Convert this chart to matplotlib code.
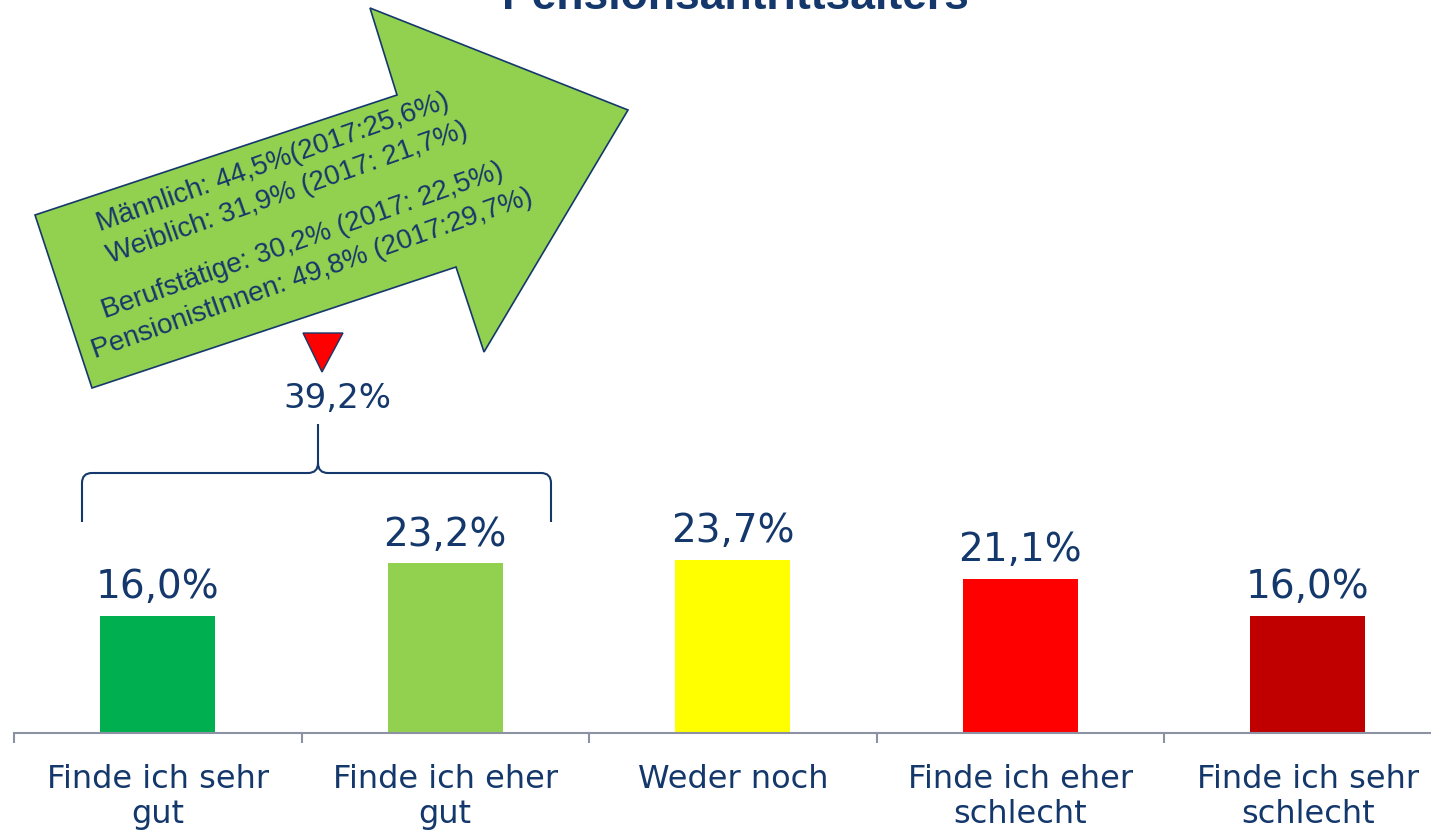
import numpy as np
import matplotlib
matplotlib.use('Agg')
import matplotlib.pyplot as plt
from matplotlib.patches import Polygon, PathPatch
from matplotlib.path import Path

kategorien = ['Finde ich sehr\ngut', 'Finde ich eher\ngut', 'Weder noch',
              'Finde ich eher\nschlecht', 'Finde ich sehr\nschlecht']
werte = [16.0, 23.2, 23.7, 21.1, 16.0]
farben = ['#00B050', '#92D050', '#FFFF00', '#FF0000', '#C00000']
summe_gut = 39.2
pfeil_zeilen = ['Männlich: 44,5%(2017:25,6%)', 'Weiblich: 31,9% (2017: 21,7%)',
                'Berufstätige: 30,2% (2017: 22,5%)', 'PensionistInnen: 49,8% (2017:29,7%)']
titel = 'Pensionsantrittsalters'

navy = '#14386b'
grau = '#8c91a3'
W, H = 1431, 832


def px(x, y):
    # Pixel (von oben links) -> Figure-Koordinaten
    return x / W, 1 - y / H


def fmt(v):
    return f'{v:.1f}%'.replace('.', ',')


fig = plt.figure(figsize=(W / 100, H / 100), dpi=100)
ax = fig.add_axes([14 / W, 99 / H, 1 - 14 / W, 1 - 99 / H])
ax.patch.set_alpha(0)

x = np.arange(len(werte))
ax.bar(x, werte, width=0.4, color=farben, zorder=2)

for xi, v in zip(x, werte):
    ax.text(xi, v + 2.4, fmt(v), ha='center', va='baseline', fontsize=28, color=navy)

for s in ['top', 'right', 'left']:
    ax.spines[s].set_visible(False)
ax.spines['bottom'].set_color(grau)
ax.spines['bottom'].set_linewidth(1.5)
ax.set_yticks([])
ax.set_xticks(x)
ax.set_xticklabels(kategorien, fontsize=23, color=navy, linespacing=1.2)
ax.set_xticks(np.arange(-0.5, len(werte) - 1, 1), minor=True)
ax.tick_params(axis='x', which='major', length=0, pad=22)
ax.tick_params(axis='x', which='minor', length=7.5, width=1.5, color=grau)
ax.set_xlim(-0.5, -0.5 + (W - 14) / 287.5)
ax.set_ylim(0, 733 / 7.31)

# Titel (abgeschnitten am oberen Rand)
fig.text(*px(735, 9), titel, ha='center', va='baseline', fontsize=32,
         fontweight='bold', color=navy, family='Liberation Sans')

# grüner Pfeil
pfeil = [(35, 215), (397, 95), (370, 8), (628, 110), (484, 352), (456, 267), (92, 388)]
fig.add_artist(Polygon([px(a, b) for a, b in pfeil], closed=True, transform=fig.transFigure,
                       facecolor='#92D050', edgecolor=navy, lw=1.2))
starts = [(100, 231), (110, 263), (105, 318), (95, 358)]
for (sx, sy), zeile in zip(starts, pfeil_zeilen):
    fig.text(*px(sx, sy), zeile, rotation=19.5, rotation_mode='anchor', ha='left',
             va='baseline', fontsize=20, color=navy, family='Liberation Sans')

# rotes Dreieck + Summe
fig.add_artist(Polygon([px(303, 333), px(343, 333), px(322, 372)], closed=True,
                       transform=fig.transFigure, facecolor='#FF0000', edgecolor=navy, lw=1))
fig.text(*px(337, 398), fmt(summe_gut), ha='center', va='center', fontsize=24.5, color=navy)

# geschweifte Klammer
x0, x1, xc = 82, 551, 318
yl, ye, yt, r = 473, 522, 424, 10
verts = [(x0, ye), (x0, yl + r), (x0, yl), (x0 + r, yl), (xc - r, yl), (xc, yl), (xc, yl - r),
         (xc, yt),
         (xc, yl - r), (xc, yl), (xc + r, yl), (x1 - r, yl), (x1, yl), (x1, yl + r), (x1, ye)]
codes = [Path.MOVETO, Path.LINETO, Path.CURVE3, Path.CURVE3, Path.LINETO, Path.CURVE3, Path.CURVE3,
         Path.LINETO,
         Path.MOVETO, Path.CURVE3, Path.CURVE3, Path.LINETO, Path.CURVE3, Path.CURVE3, Path.LINETO]
fig.add_artist(PathPatch(Path([px(a, b) for a, b in verts], codes), transform=fig.transFigure,
                         facecolor='none', edgecolor=navy, lw=1.5))

fig.savefig('out.png', dpi=100)
